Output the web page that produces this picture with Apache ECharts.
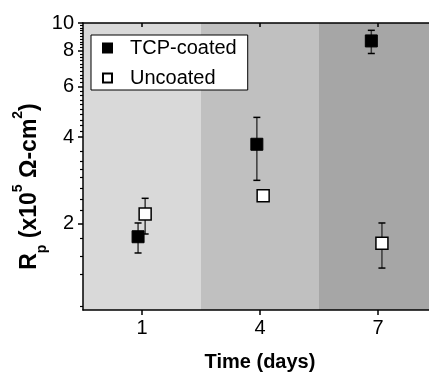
<!DOCTYPE html>
<html><head><meta charset="utf-8">
<script src="https://cdn.jsdelivr.net/npm/echarts@6/dist/echarts.min.js"></script>
<style>html,body{margin:0;padding:0;background:#fff}#c{width:429px;height:377px}</style>
</head><body><div id="c"></div><script>
// ---- data ----
const days = [1, 4, 7];
const tcpX = [0.9, 3.92, 6.83];
const tcpVal = [1.80, 3.78, 8.66];
const tcpLow = [1.58, 2.83, 7.83];
const tcpHigh = [2.01, 4.69, 9.43];
const uncX = [1.08, 4.08, 7.10];
const uncVal = [2.16, 2.50, 1.71];
const uncLow = [1.84, 2.45, 1.40];
const uncHigh = [2.45, 2.55, 2.01];
const bandEdges = [-0.5, 2.5, 5.5, 8.5];
const bandColors = ['#d9d9d9', '#c0c0c0', '#a6a6a6'];
const yMajorTicks = [2, 4, 6, 8, 10];
const yMinorTicks = [1.03, 1.33, 1.54, 1.78, 2.22, 2.43, 2.66, 2.90, 3.10, 3.31, 3.56,
  4.2, 4.4, 4.6, 4.8, 5.0, 5.2, 5.4, 5.6, 5.8,
  6.2, 6.4, 6.6, 6.8, 7.0, 7.2, 7.4, 7.6, 7.8,
  8.2, 8.4, 8.6, 8.8, 9.0, 9.2, 9.4, 9.6, 9.8];
const yMin = 1, yMax = 10;
const xMin = -0.5, xMax = 8.5;

const FONT = '"Liberation Sans", Arial, sans-serif';

function errSeries(xs, lows, highs) {
  return {
    type: 'custom', z: 3, silent: true,
    data: xs.map((x, i) => [x, lows[i], highs[i]]),
    encode: { x: 0, y: [1, 2] },
    renderItem(params, api) {
      const x = api.value(0);
      const lo = api.coord([x, api.value(1)]);
      const hi = api.coord([x, api.value(2)]);
      const w = 3.5;
      const stem = { stroke: '#3a3a3a', lineWidth: 1.5 };
      const cap = { stroke: '#000', lineWidth: 1.5 };
      return { type: 'group', children: [
        { type: 'line', shape: { x1: lo[0], y1: lo[1], x2: hi[0], y2: hi[1] }, style: stem },
        { type: 'line', shape: { x1: lo[0] - w, y1: lo[1], x2: lo[0] + w, y2: lo[1] }, style: cap },
        { type: 'line', shape: { x1: hi[0] - w, y1: hi[1], x2: hi[0] + w, y2: hi[1] }, style: cap }
      ]};
    }
  };
}

const bandData = bandColors.map((c, i) => [bandEdges[i], bandEdges[i + 1], i]);

const chart = echarts.init(document.getElementById('c'), null, { renderer: 'canvas' });
chart.setOption({
  animation: false,
  backgroundColor: '#fff',
  textStyle: { fontFamily: FONT },
  grid: { left: 83, top: 23, right: -8, bottom: 67, containLabel: false, outerBoundsMode: 'none' },
  legend: {
    orient: 'vertical', left: 91, top: 35,
    backgroundColor: '#fff', borderColor: '#000', borderWidth: 1, borderRadius: 0,
    padding: [2, 11, 1, 11], itemGap: 8, itemWidth: 9, itemHeight: 9,
    textStyle: { fontSize: 20, fontFamily: FONT, color: '#000', padding: [0, 0, 0, 13], lineHeight: 22 },
    data: [{ name: 'TCP-coated', icon: 'rect' }, { name: 'Uncoated', icon: 'rect' }]
  },
  xAxis: [{
    type: 'value', min: xMin, max: xMax, position: 'bottom', z: 5,
    axisLine: { show: true, onZero: false, lineStyle: { color: '#000', width: 1.5 } },
    axisTick: { show: true, customValues: days, length: 5, lineStyle: { color: '#000', width: 1.5 } },
    axisLabel: { customValues: days, fontSize: 20, color: '#000', margin: 8, fontFamily: FONT },
    splitLine: { show: false },
    name: 'Time (days)', nameLocation: 'middle', nameGap: 42, nameMoveOverlap: false,
    nameTextStyle: { fontSize: 20, fontWeight: 'bold', color: '#000', fontFamily: FONT }
  }, {
    type: 'value', min: xMin, max: xMax, position: 'top', z: 5,
    axisLine: { show: true, onZero: false, lineStyle: { color: '#000', width: 1.5 } },
    axisTick: { show: true, inside: true, customValues: days, length: 4, lineStyle: { color: '#000', width: 1.5 } },
    axisLabel: { show: false },
    splitLine: { show: false }
  }],
  yAxis: [{
    type: 'log', logBase: 10, min: yMin, max: yMax, position: 'left', offset: 0, z: 5,
    axisLine: { show: true, onZero: false, lineStyle: { color: '#000', width: 1.5 } },
    axisTick: { show: true, customValues: yMajorTicks, length: 5, lineStyle: { color: '#000', width: 1.5 } },
    axisLabel: { customValues: yMajorTicks, fontSize: 20, color: '#000', margin: 9, fontFamily: FONT },
    splitLine: { show: false },
    name: '{r|R}{sub|p}{t| (x10}{sup|5}{t| Ω-cm}{sup|2}{t|)}',
    nameLocation: 'middle', nameRotate: 90, nameGap: 34, nameMoveOverlap: false,
    nameTextStyle: {
      padding: [0, 40, 0, 0],
      rich: {
        r: { fontSize: 23, fontWeight: 'bold', color: '#000', lineHeight: 38, fontFamily: FONT },
        t: { fontSize: 23, fontWeight: 'bold', color: '#000', lineHeight: 38, fontFamily: FONT },
        sub: { fontSize: 14, fontWeight: 'bold', color: '#000', lineHeight: 14, verticalAlign: 'bottom', fontFamily: FONT },
        sup: { fontSize: 14, fontWeight: 'bold', color: '#000', lineHeight: 16, verticalAlign: 'top', fontFamily: FONT }
      }
    }
  }, {
    type: 'log', logBase: 10, min: yMin, max: yMax, position: 'left', offset: 0, z: 5,
    axisLine: { show: false, onZero: false },
    axisTick: { show: true, customValues: yMinorTicks, length: 3, lineStyle: { color: '#000', width: 1.2 } },
    axisLabel: { show: false },
    splitLine: { show: false }
  }],
  series: [
    {
      type: 'custom', z: 0, silent: true,
      data: bandData,
      encode: { x: [0, 1] },
      renderItem(params, api) {
        const p0 = api.coord([api.value(0), yMax]);
        const p1 = api.coord([api.value(1), yMin]);
        return { type: 'rect', shape: { x: p0[0], y: p0[1], width: p1[0] - p0[0], height: p1[1] - p0[1] },
          style: { fill: bandColors[api.value(2)] } };
      }
    },
    errSeries(tcpX, tcpLow, tcpHigh),
    errSeries(uncX, uncLow, uncHigh),
    {
      name: 'TCP-coated', type: 'scatter', z: 4, symbol: 'rect', symbolSize: 12,
      itemStyle: { color: '#000', borderColor: '#000', borderWidth: 1, opacity: 1 },
      data: tcpX.map((x, i) => [x, tcpVal[i]])
    },
    {
      name: 'Uncoated', type: 'scatter', z: 4, symbol: 'rect', symbolSize: 12,
      itemStyle: { color: '#fff', borderColor: '#000', borderWidth: 1.5, opacity: 1 },
      data: uncX.map((x, i) => [x, uncVal[i]])
    }
  ]
});
</script></body></html>
